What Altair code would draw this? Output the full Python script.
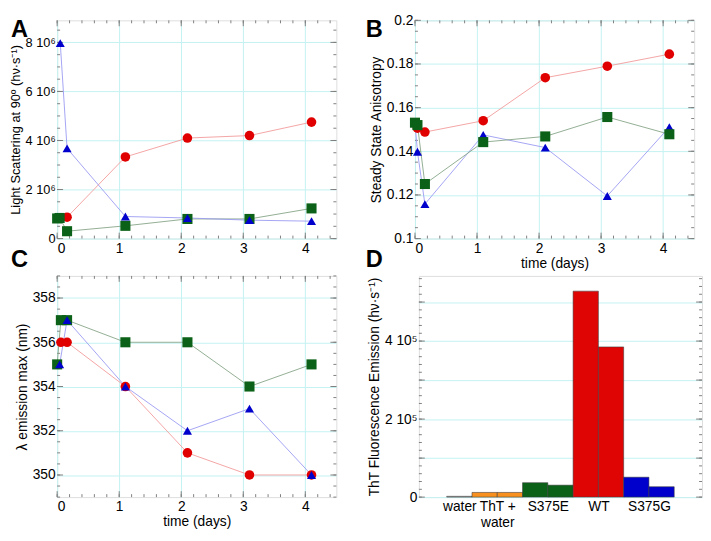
import altair as alt
import pandas as pd

FONT = "Liberation Sans"
RED, RED_L = "#e00000", "#f29a9a"
GREEN, GREEN_L = "#0a6117", "#86a487"
BLUE, BLUE_L = "#0000cc", "#9a9af2"
GRID = "#c4f2f2"
TICK = "#808080"

# ---------------- Panel A : light scattering ----------------
a_red_t = [0.16, 1.1, 2.1, 3.1, 4.1]
a_red_v = [0.87e6, 3.33e6, 4.1e6, 4.2e6, 4.75e6]
a_green_t = [0.0, 0.04, 0.16, 1.1, 2.1, 3.1, 4.1]
a_green_v = [0.82e6, 0.84e6, 0.3e6, 0.52e6, 0.8e6, 0.8e6, 1.23e6]
a_blue_t = [0.05, 0.16, 1.1, 2.1, 3.1, 4.1]
a_blue_v = [7.97e6, 3.68e6, 0.9e6, 0.84e6, 0.75e6, 0.71e6]

# ---------------- Panel B : anisotropy ----------------
b_red_t = [0.04, 0.16, 1.1, 2.1, 3.1, 4.1]
b_red_v = [0.1506, 0.1488, 0.154, 0.1737, 0.179, 0.1845]
b_green_t = [0.0, 0.04, 0.16, 1.1, 2.1, 3.1, 4.1]
b_green_v = [0.1531, 0.152, 0.125, 0.1442, 0.1468, 0.1557, 0.1478]
b_blue_t = [0.0, 0.04, 0.16, 1.1, 2.1, 3.1, 4.1]
b_blue_v = [0.153, 0.1398, 0.1158, 0.1475, 0.1417, 0.1195, 0.1511]

# ---------------- Panel C : emission max ----------------
c_red_t = [0.06, 0.16, 1.1, 2.1, 3.1, 4.1]
c_red_v = [356, 356, 354, 351, 350, 350]
c_green_t = [0.0, 0.06, 0.16, 1.1, 2.1, 3.1, 4.1]
c_green_v = [355, 357, 357, 356, 356, 354, 355]
c_blue_t = [0.04, 0.16, 1.1, 2.1, 3.1, 4.1]
c_blue_v = [355, 357, 354, 352, 353, 350]

# ---------------- Panel D : ThT fluorescence ----------------
d_bar_group = ["water", "ThT", "ThT", "S375E", "S375E", "WT", "WT", "S375G", "S375G"]
d_bar_value = [2000, 12000, 12000, 37000, 30600, 528000, 385000, 51000, 26600]
d_groups = ["water", "ThT", "S375E", "WT", "S375G"]
d_group_colors = ["#a8a8a8", "#f7901e", GREEN, "#e00505", "#0000cc"]
d_label_text = [["water"], ["ThT +", "water"], ["S375E"], ["WT"], ["S375G"]]
d_label_pos = [0.5, 2, 4, 6, 8]

letters = ["A", "B", "C", "D"]


def df_of(t, v):
    return pd.DataFrame({"t": t, "v": v})


def frange(a, b, step):
    out, k = [], 0
    while a + k * step <= b + 1e-9:
        out.append(round(a + k * step, 6))
        k += 1
    return out


def tick_rules(xs, ys, w, h, x_major, x_minor, y_major, y_minor):
    """Inward ticks on all four sides, drawn at tick values through the scales."""
    layers = []
    for vals, ln in [(x_major, 6), (x_minor, 3)]:
        if not vals:
            continue
        d = pd.DataFrame({"p": vals})
        base = alt.Chart(d).mark_rule(color=TICK, strokeWidth=1)
        layers.append(base.encode(x=alt.X("p:Q", scale=xs, axis=None),
                                  y=alt.value(h - ln), y2=alt.value(h)))
        layers.append(base.encode(x=alt.X("p:Q", scale=xs, axis=None),
                                  y=alt.value(0), y2=alt.value(ln)))
    for vals, ln in [(y_major, 6), (y_minor, 3)]:
        if not vals:
            continue
        d = pd.DataFrame({"p": vals})
        base = alt.Chart(d).mark_rule(color=TICK, strokeWidth=1)
        layers.append(base.encode(y=alt.Y("p:Q", scale=ys, axis=None),
                                  x=alt.value(0), x2=alt.value(ln)))
        layers.append(base.encode(y=alt.Y("p:Q", scale=ys, axis=None),
                                  x=alt.value(w - ln), x2=alt.value(w)))
    return layers


def letter_layer(letter, dx, dy):
    return alt.Chart(pd.DataFrame({"l": [letter]})).mark_text(
        font=FONT, fontSize=24, fontWeight="bold", align="left", baseline="top", color="black"
    ).encode(text="l:N", x=alt.value(dx), y=alt.value(dy))


def y_axis(values, expr, title, size=14, tsize=14):
    return alt.Axis(orient="left", values=values, ticks=False, domain=False, grid=True,
                    gridColor=GRID, labelFontSize=size, labelPadding=2, labelFont=FONT,
                    labelOverlap=False, labelExpr=expr, title=title, titleFontSize=tsize,
                    titleFont=FONT, titleFontWeight="normal", titlePadding=3)


def line_panel(series, ydom, y_major, y_minor, y_grid, y_labelexpr, y_title, x_title,
               letter_specs, w, h, ylab_size=14, ytitle_size=14):
    xs = alt.Scale(domain=[0, 4.5], nice=False, zero=False)
    ys = alt.Scale(domain=ydom, nice=False, zero=False)
    all_df = pd.concat([s[0] for s in series], ignore_index=True)
    x_major = [0, 1, 2, 3, 4]
    x_minor = frange(0, 4.4, 0.2)

    xax = dict(orient="bottom", values=x_major, ticks=False, domain=False, grid=True,
               gridColor=GRID, labelFontSize=14, labelPadding=3, labelFont=FONT,
               labelOverlap=False, format="d", titleFontSize=14, titleFont=FONT,
               titleFontWeight="normal", titlePadding=1)
    xax["title"] = x_title
    axis_layer = alt.Chart(all_df).mark_point(opacity=0).encode(
        x=alt.X("t:Q", scale=xs, axis=alt.Axis(**xax)),
        y=alt.Y("v:Q", scale=ys,
                axis=y_axis(y_grid, y_labelexpr, y_title, ylab_size, ytitle_size)),
    )
    layers = [axis_layer] + tick_rules(xs, ys, w, h, x_major, x_minor, y_major, y_minor)
    for df, col, lcol, shape, size in series:
        layers.append(alt.Chart(df).mark_line(color=lcol, strokeWidth=0.9).encode(
            x=alt.X("t:Q", scale=xs, axis=None), y=alt.Y("v:Q", scale=ys, axis=None)))
    for df, col, lcol, shape, size in series:
        layers.append(alt.Chart(df).mark_point(shape=shape, filled=True, size=size,
                                               color=col, opacity=1).encode(
            x=alt.X("t:Q", scale=xs, axis=None), y=alt.Y("v:Q", scale=ys, axis=None)))
    for L, dx, dy in letter_specs:
        layers.append(letter_layer(L, dx, dy))
    return alt.layer(*layers).resolve_axis(x="independent", y="independent").properties(
        width=w, height=h)


W = 284
H1, H2 = 222, 225

panel_a = line_panel(
    [(df_of(a_red_t, a_red_v), RED, RED_L, "circle", 95),
     (df_of(a_green_t, a_green_v), GREEN, GREEN_L, "square", 105),
     (df_of(a_blue_t, a_blue_v), BLUE, BLUE_L, "triangle-up", 85)],
    [0, 8.9e6], frange(0, 8e6, 2e6), frange(0, 8.5e6, 5e5), frange(0, 8e6, 2e6),
    "datum.value == 0 ? '0' : format(datum.value / 1000000, 'd') + ' 10\u2076'",
    "Light Scattering at 90\u00ba (h\u03bd\u00b7s\u207b\u00b9)", None,
    [(letters[0], -47, -2), (letters[2], -47, H1 + 10)], W, H1, ylab_size=13,
    ytitle_size=13)

panel_b = line_panel(
    [(df_of(b_red_t, b_red_v), RED, RED_L, "circle", 95),
     (df_of(b_blue_t, b_blue_v), BLUE, BLUE_L, "triangle-up", 85),
     (df_of(b_green_t, b_green_v), GREEN, GREEN_L, "square", 105)],
    [0.1, 0.2], frange(0.1, 0.2, 0.02), frange(0.1, 0.2, 0.005), frange(0.1, 0.2, 0.02),
    "format(datum.value, '.2~f')",
    "Steady State Anisotropy", "time (days)",
    [(letters[1], -50, -2), (letters[3], -50, H1 + 10)], W, H1)

panel_c = line_panel(
    [(df_of(c_red_t, c_red_v), RED, RED_L, "circle", 95),
     (df_of(c_green_t, c_green_v), GREEN, GREEN_L, "square", 105),
     (df_of(c_blue_t, c_blue_v), BLUE, BLUE_L, "triangle-up", 85)],
    [349, 359], frange(350, 358, 2), frange(349, 359, 0.5), frange(350, 358, 2),
    "format(datum.value, 'd')",
    "\u03bb emission max (nm)", "time (days)", [], W, H2)

# ---- panel D
WD = 288
d_df = pd.DataFrame({
    "x0": list(range(len(d_bar_value))),
    "x1": [i + 1 for i in range(len(d_bar_value))],
    "v": d_bar_value,
    "g": d_bar_group,
})
dxs = alt.Scale(domain=[-1.1, 10.1], nice=False, zero=False)
dys = alt.Scale(domain=[0, 5.67e5], nice=False, zero=False)
lab_expr = ""
for pos, txt in zip(d_label_pos, d_label_text):
    arr = "[" + ",".join("'" + s + "'" for s in txt) + "]"
    lab_expr += "datum.value == %s ? %s : " % (pos, arr)
lab_expr += "''"

d_axis = alt.Chart(d_df).mark_point(opacity=0).encode(
    x=alt.X("x0:Q", scale=dxs, axis=alt.Axis(
        orient="bottom", values=d_label_pos, ticks=False, domain=False, grid=False,
        labelExpr=lab_expr, labelFontSize=14, labelFont=FONT, labelPadding=3,
        labelOverlap=False, labelLineHeight=16, title=None)),
    y=alt.Y("v:Q", scale=dys, axis=y_axis(
        frange(0, 5e5, 1e5),
        "datum.value == 0 ? '0' : (datum.value % 200000 == 0 ? format(datum.value / 100000, 'd') + ' 10\u2075' : '')",
        "ThT Fluorescence Emission (h\u03bd\u00b7s\u207b\u00b9)")),
)
d_bars = alt.Chart(d_df).mark_bar(stroke="#3a3a3a", strokeWidth=0.7, strokeOpacity=0.8).encode(
    x=alt.X("x0:Q", scale=dxs, axis=None),
    x2="x1:Q",
    y=alt.Y("v:Q", scale=dys, axis=None),
    y2=alt.datum(0),
    color=alt.Color("g:N", scale=alt.Scale(domain=d_groups, range=d_group_colors), legend=None),
)
panel_d = alt.layer(
    d_axis,
    *tick_rules(dxs, dys, WD, H2, [], [], frange(0, 5e5, 1e5), frange(0, 5.6e5, 2e4)),
    d_bars,
).resolve_axis(x="independent", y="independent").properties(width=WD, height=H2)

top = alt.hconcat(panel_a, panel_b, spacing=28)
bottom = alt.hconcat(panel_c, panel_d, spacing=30)
chart = alt.vconcat(top, bottom, spacing=2).properties(
    padding={"left": 0, "top": 0, "right": 0, "bottom": 0}
).configure_view(stroke="#999999", strokeWidth=1).configure(background="white")

chart.save("out.html", embed_options={"renderer": "svg", "actions": False})
